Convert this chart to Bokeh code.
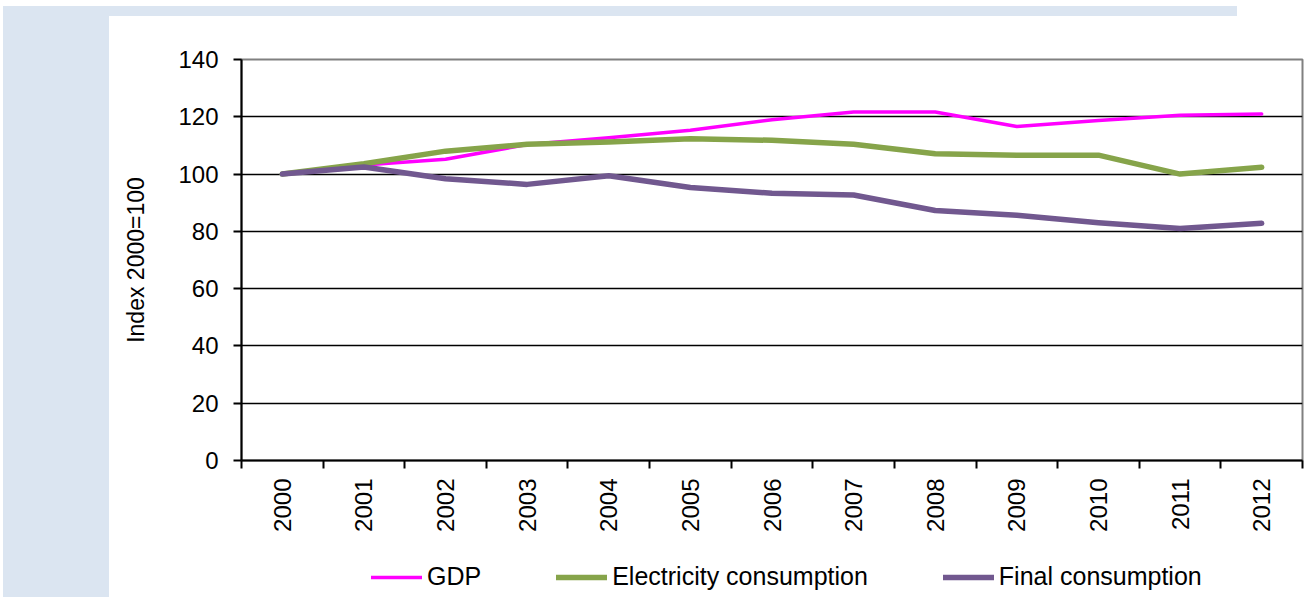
import math
from bokeh.plotting import figure
from bokeh.layouts import column
from bokeh.models import ColumnDataSource, Range1d, FixedTicker, Legend, LegendItem
from bokeh.embed import file_html
from bokeh.resources import INLINE

years = ["2000", "2001", "2002", "2003", "2004", "2005", "2006",
         "2007", "2008", "2009", "2010", "2011", "2012"]
gdp = [100, 103.2, 105.2, 110.3, 112.7, 115.3, 119.0, 121.7, 121.7, 116.6, 118.7, 120.5, 121.0]
electricity = [100, 103.6, 108.0, 110.4, 111.2, 112.3, 111.8, 110.4, 107.1, 106.6, 106.6, 100.0, 102.4]
final_cons = [100, 102.5, 98.4, 96.4, 99.4, 95.3, 93.3, 92.7, 87.3, 85.6, 83.0, 81.0, 82.8]
y_ticks = [0, 20, 40, 60, 80, 100, 120, 140]
series_names = ["GDP", "Electricity consumption", "Final consumption"]

idx = list(range(len(years)))
src = ColumnDataSource(dict(x=idx, gdp=gdp, el=electricity, fc=final_cons))

FONT = "Liberation Sans"
PANEL = "#dbe5f1"
STYLES = [dict(line_color="#ff00ff", line_width=3.5),
          dict(line_color="#86a44a", line_width=5.5),
          dict(line_color="#71588f", line_width=5.5)]

p = figure(width=1312, height=540, output_backend="svg", toolbar_location=None,
           x_range=Range1d(-0.5, len(years) - 0.5), y_range=Range1d(0, 140),
           min_border_left=241, min_border_right=10, min_border_top=59, min_border_bottom=80,
           background_fill_color="white", border_fill_color=None,
           outline_line_color="#808080", outline_line_width=2)

for col, st in zip(["gdp", "el", "fc"], STYLES):
    p.line("x", col, source=src, line_join="round", line_cap="round", **st)

# x axis
p.xaxis.ticker = FixedTicker(ticks=idx, minor_ticks=[i - 0.5 for i in range(len(years) + 1)])
p.xaxis.major_label_overrides = {i: y for i, y in zip(idx, years)}
p.xaxis.major_label_orientation = math.pi / 2
p.xaxis.major_tick_in = 0
p.xaxis.major_tick_out = 0
p.xaxis.minor_tick_in = 0
p.xaxis.minor_tick_out = 8
p.xaxis.minor_tick_line_color = "black"
p.xaxis.minor_tick_line_width = 2
p.xaxis.major_label_standoff = 10
p.xaxis.axis_line_width = 2
p.xaxis.axis_line_color = "black"
p.xaxis.major_label_text_font = FONT
p.xaxis.major_label_text_font_size = "24px"
p.xaxis.major_label_text_color = "black"

# y axis
p.yaxis.ticker = FixedTicker(ticks=y_ticks, minor_ticks=[])
p.yaxis.major_tick_in = 0
p.yaxis.major_tick_out = 8
p.yaxis.major_tick_line_width = 2
p.yaxis.major_tick_line_color = "black"
p.yaxis.axis_line_width = 2
p.yaxis.axis_line_color = "black"
p.yaxis.major_label_standoff = 15
p.yaxis.major_label_text_font = FONT
p.yaxis.major_label_text_font_size = "24px"
p.yaxis.major_label_text_color = "black"
p.yaxis.axis_label = "Index 2000=100"
p.yaxis.axis_label_text_font = FONT
p.yaxis.axis_label_text_font_size = "23px"
p.yaxis.axis_label_text_font_style = "normal"
p.yaxis.axis_label_text_color = "black"
p.yaxis.axis_label_standoff = 26

p.xgrid.grid_line_color = None
p.ygrid.ticker = FixedTicker(ticks=y_ticks[1:-1])
p.ygrid.grid_line_color = "black"
p.ygrid.grid_line_width = 1.5

# legend strip below the chart (its frame is aligned with the chart's frame)
p2 = figure(width=1312, height=57, output_backend="svg", toolbar_location=None,
            x_range=Range1d(0, 1), y_range=Range1d(0, 1),
            x_axis_type=None, y_axis_type=None,
            min_border_left=0, min_border_right=0, min_border_top=0, min_border_bottom=0,
            background_fill_color=None, border_fill_color=None, outline_line_color=None)
p2.xgrid.visible = False
p2.ygrid.visible = False
items = []
nan = float("nan")
for name, st in zip(series_names, STYLES):
    r = p2.line(x=[nan, nan], y=[nan, nan], line_cap="round", **st)
    items.append(LegendItem(label=name, renderers=[r]))

legend = Legend(items=items, orientation="horizontal", location=(130, 6),
                glyph_width=51, glyph_height=24, label_height=24, label_standoff=5,
                spacing=75, padding=0, margin=0,
                border_line_alpha=0, background_fill_alpha=0,
                label_text_font=FONT, label_text_font_size="25px", label_text_color="black")
p2.add_layout(legend, "center")

layout = column(p, p2, spacing=0)
layout.styles = {"background": (f"linear-gradient({PANEL},{PANEL}) 3px 6px / 106px 591px no-repeat, "
                                f"linear-gradient({PANEL},{PANEL}) 3px 6px / 1234px 10px no-repeat, #ffffff")}

open("out.html", "w").write(file_html(layout, INLINE))
